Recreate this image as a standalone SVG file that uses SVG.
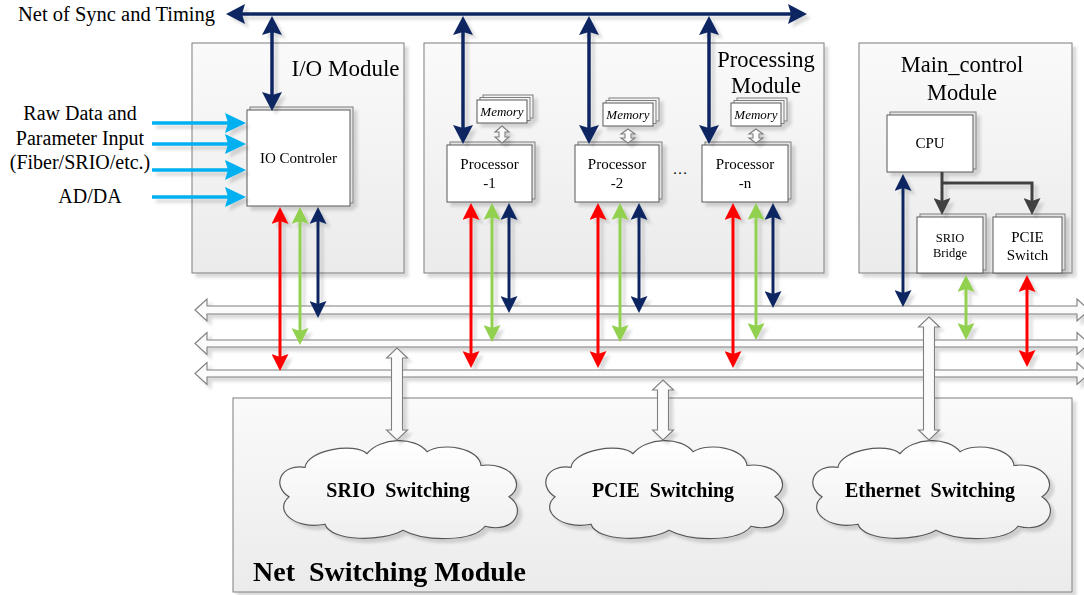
<svg xmlns="http://www.w3.org/2000/svg" width="1084" height="595" viewBox="0 0 1084 595">
  <style>
    .serif { font-family: "Liberation Serif", "Times New Roman", serif; fill: #000; }
    .title { font-size: 22.5px; text-anchor: middle; }
    .lbl { font-size: 20px; text-anchor: middle; }
    .box-txt { font-size: 15px; text-anchor: middle; }
    .mem-txt { font-size: 13px; font-style: italic; text-anchor: middle; }
    .cloud-txt { font-size: 20px; font-weight: bold; text-anchor: middle; }
    .module { fill: url(#modFill); stroke: #7f7f7f; stroke-width: 1; }
    .box { fill: #fff; stroke: #595959; stroke-width: 1; }
    .box-depth { fill: #e4e4e4; stroke: #7f7f7f; stroke-width: 1; }
    .cloud { fill: url(#cloudFill); stroke: #595959; stroke-width: 1.2; }
    .hollow { fill: #fbfbfb; stroke: #7f7f7f; stroke-width: 1.1; }
    .navy { stroke: #0f2862; stroke-width: 3.5; fill: none; }
    .navy-s { stroke: #0f2862; stroke-width: 3; fill: none; }
    .red { stroke: #ff0000; stroke-width: 3; fill: none; }
    .green { stroke: #92d050; stroke-width: 3; fill: none; }
    .cyan { stroke: #00b0f0; stroke-width: 3.5; fill: none; }
    .gray { stroke: #404040; stroke-width: 3; fill: none; }
  </style>
  <defs>
    <linearGradient id="modFill" x1="0" y1="0" x2="0" y2="1">
      <stop offset="0" stop-color="#fafafa"/>
      <stop offset="1" stop-color="#ebebeb"/>
    </linearGradient>
    <linearGradient id="cloudFill" x1="0" y1="0" x2="0" y2="1">
      <stop offset="0" stop-color="#ffffff"/>
      <stop offset="1" stop-color="#efefef"/>
    </linearGradient>
    <filter id="shadow" filterUnits="userSpaceOnUse" x="0" y="0" width="1100" height="610">
      <feDropShadow dx="4" dy="4" stdDeviation="1.4" flood-color="#000" flood-opacity="0.14"/>
    </filter>
    <!-- large arrowheads (sync net, inputs) -->
    <marker id="hNavyL" viewBox="0 0 19 20" markerWidth="19" markerHeight="20" markerUnits="userSpaceOnUse" refX="5" refY="10" orient="auto-start-reverse">
      <path d="M0,0 L19,10 L0,20 L3,10 z" fill="#0f2862"/>
    </marker>
    <marker id="hCyan" viewBox="0 0 21 20" markerWidth="21" markerHeight="20" markerUnits="userSpaceOnUse" refX="5" refY="10" orient="auto-start-reverse">
      <path d="M0,0 L21,10 L0,20 L3,10 z" fill="#00b0f0"/>
    </marker>
    <!-- small arrowheads (data links) -->
    <marker id="hNavy" viewBox="0 0 17 17" markerWidth="17" markerHeight="17" markerUnits="userSpaceOnUse" refX="5" refY="8.5" orient="auto-start-reverse">
      <path d="M0,0 L17,8.5 L0,17 L3,8.5 z" fill="#0f2862"/>
    </marker>
    <marker id="hRed" viewBox="0 0 17 17" markerWidth="17" markerHeight="17" markerUnits="userSpaceOnUse" refX="5" refY="8.5" orient="auto-start-reverse">
      <path d="M0,0 L17,8.5 L0,17 L3,8.5 z" fill="#ff0000"/>
    </marker>
    <marker id="hGreen" viewBox="0 0 17 17" markerWidth="17" markerHeight="17" markerUnits="userSpaceOnUse" refX="5" refY="8.5" orient="auto-start-reverse">
      <path d="M0,0 L17,8.5 L0,17 L3,8.5 z" fill="#92d050"/>
    </marker>
    <marker id="hGray" viewBox="0 0 17 17" markerWidth="17" markerHeight="17" markerUnits="userSpaceOnUse" refX="5" refY="8.5" orient="auto-start-reverse">
      <path d="M0,0 L17,8.5 L0,17 L3,8.5 z" fill="#404040"/>
    </marker>
    <path id="cloudShape" d="M30,28 C32,10 80,2 92,14 C105,-3 140,-4 152,12 C168,2 204,8 206,26 C236,22 252,46 234,58 C252,70 240,96 210,88 C198,104 150,104 128,92 C108,104 56,104 50,86 C20,92 -2,72 14,58 C-4,46 6,24 30,28 Z"/>
  </defs>

  <rect width="1084" height="595" fill="#fff"/>

  <!-- module containers -->
  <g id="io-module" filter="url(#shadow)">
    <rect class="module" x="192" y="43" width="212" height="230"/>
    <text class="serif title" x="345.5" y="76" style="font-size:23px">I/O Module</text>
  </g>
  <g id="processing-module" filter="url(#shadow)">
    <rect class="module" x="424" y="43" width="400" height="230"/>
    <text class="serif title" x="766" y="67">Processing</text>
    <text class="serif title" x="766" y="93">Module</text>
  </g>
  <g id="main-control-module" filter="url(#shadow)">
    <rect class="module" x="859" y="43" width="213" height="230"/>
    <text class="serif title" x="962" y="72">Main_control</text>
    <text class="serif title" x="962" y="100">Module</text>
  </g>
  <g id="net-switching-module" filter="url(#shadow)">
    <rect class="module" x="233" y="398" width="839" height="194"/>
    <text class="serif" x="253" y="581" style="font-size:28px;font-weight:bold" xml:space="preserve">Net  Switching Module</text>
  </g>

  <!-- input labels -->
  <g id="sync-label">
    <text class="serif" x="18" y="21" style="font-size:20.5px">Net of Sync and Timing</text>
  </g>
  <g id="input-labels">
    <text class="serif lbl" x="80" y="120">Raw Data and</text>
    <text class="serif lbl" x="80" y="145">Parameter Input</text>
    <text class="serif lbl" x="80" y="169">(Fiber/SRIO/etc.)</text>
    <text class="serif lbl" x="90" y="203">AD/DA</text>
  </g>

  <!-- inner units -->
  <g id="io-controller" filter="url(#shadow)">
    <rect class="box-depth" x="250" y="107" width="103" height="96"/>
    <rect class="box" x="247" y="110" width="103" height="96"/>
    <text class="serif box-txt" x="298.5" y="163">IO Controler</text>
  </g>

  <g id="memory-1" filter="url(#shadow)">
    <rect class="box-depth" x="483" y="95" width="50" height="23" style="fill:#f4f4f4"/>
    <rect class="box-depth" x="480" y="97.5" width="50" height="23" style="fill:#f4f4f4"/>
    <rect class="box" x="477" y="100" width="50" height="23"/>
    <text class="serif mem-txt" x="502" y="116">Memory</text>
  </g>
  <g id="processor-1" filter="url(#shadow)">
    <rect class="box-depth" x="450" y="142" width="85" height="57"/>
    <rect class="box" x="447" y="145" width="85" height="57"/>
    <text class="serif box-txt" x="489.5" y="169">Processor</text>
    <text class="serif box-txt" x="489.5" y="188">-1</text>
  </g>

  <g id="memory-2" filter="url(#shadow)">
    <rect class="box-depth" x="609" y="98" width="50" height="23" style="fill:#f4f4f4"/>
    <rect class="box-depth" x="606" y="100.5" width="50" height="23" style="fill:#f4f4f4"/>
    <rect class="box" x="603" y="103" width="50" height="23"/>
    <text class="serif mem-txt" x="628" y="119">Memory</text>
  </g>
  <g id="processor-2" filter="url(#shadow)">
    <rect class="box-depth" x="578" y="142" width="84" height="57"/>
    <rect class="box" x="575" y="145" width="84" height="57"/>
    <text class="serif box-txt" x="617" y="169">Processor</text>
    <text class="serif box-txt" x="617" y="188">-2</text>
  </g>

  <g id="ellipsis">
    <text class="serif box-txt" x="680" y="174">…</text>
  </g>

  <g id="memory-n" filter="url(#shadow)">
    <rect class="box-depth" x="737" y="98" width="50" height="23" style="fill:#f4f4f4"/>
    <rect class="box-depth" x="734" y="100.5" width="50" height="23" style="fill:#f4f4f4"/>
    <rect class="box" x="731" y="103" width="50" height="23"/>
    <text class="serif mem-txt" x="756" y="119">Memory</text>
  </g>
  <g id="processor-n" filter="url(#shadow)">
    <rect class="box-depth" x="705" y="142" width="86" height="57"/>
    <rect class="box" x="702" y="145" width="86" height="57"/>
    <text class="serif box-txt" x="745" y="169">Processor</text>
    <text class="serif box-txt" x="745" y="188">-n</text>
  </g>

  <g id="cpu" filter="url(#shadow)">
    <rect class="box-depth" x="890" y="112" width="86" height="57"/>
    <rect class="box" x="887" y="115" width="86" height="57"/>
    <text class="serif box-txt" x="930" y="148">CPU</text>
  </g>
  <g id="srio-bridge" filter="url(#shadow)">
    <rect class="box-depth" x="920" y="214" width="66" height="56"/>
    <rect class="box" x="917" y="217" width="66" height="56"/>
    <text class="serif box-txt" x="950" y="242" style="font-size:12.5px">SRIO</text>
    <text class="serif box-txt" x="950" y="257" style="font-size:12.5px">Bridge</text>
  </g>
  <g id="pcie-switch" filter="url(#shadow)">
    <rect class="box-depth" x="996" y="214" width="69" height="56"/>
    <rect class="box" x="993" y="217" width="69" height="56"/>
    <text class="serif box-txt" x="1027.5" y="242">PCIE</text>
    <text class="serif box-txt" x="1027.5" y="260">Switch</text>
  </g>

  <!-- switching fabrics -->
  <g id="srio-switching" filter="url(#shadow)">
    <use href="#cloudShape" class="cloud" transform="translate(275,440) scale(1,0.98)"/>
    <text class="serif cloud-txt" x="398" y="497" xml:space="preserve">SRIO  Switching</text>
  </g>
  <g id="pcie-switching" filter="url(#shadow)">
    <use href="#cloudShape" class="cloud" transform="translate(541,440) scale(1,0.98)"/>
    <text class="serif cloud-txt" x="663" y="497" xml:space="preserve">PCIE  Switching</text>
  </g>
  <g id="ethernet-switching" filter="url(#shadow)">
    <use href="#cloudShape" class="cloud" transform="translate(808,440) scale(1,0.98)"/>
    <text class="serif cloud-txt" x="930" y="497" xml:space="preserve">Ethernet  Switching</text>
  </g>

  <!-- connectors -->
  <g id="connectors" filter="url(#shadow)">
    <!-- backplane buses -->
    <polygon class="hollow" points="195,310 207,299 207,306 1077,306 1077,299 1089,310 1077,321 1077,314 207,314 207,321"/>
    <polygon class="hollow" points="195,343.5 207,332.5 207,340 1077,340 1077,332.5 1089,343.5 1077,354.5 1077,347 207,347 207,354.5"/>
    <polygon class="hollow" points="195,373.5 207,362.5 207,370 1077,370 1077,362.5 1089,373.5 1077,384.5 1077,377 207,377 207,384.5"/>

    <!-- bus to switching fabrics -->
    <polygon class="hollow" points="397,348 407.5,358 402.5,358 402.5,430 407.5,430 397,440 386.5,430 391.5,430 391.5,358 386.5,358"/>
    <polygon class="hollow" points="663,380 673.5,390 668.5,390 668.5,430 673.5,430 663,440 652.5,430 657.5,430 657.5,390 652.5,390"/>
    <polygon class="hollow" points="929,317 939.5,327 934.5,327 934.5,430 939.5,430 929,440 918.5,430 923.5,430 923.5,327 918.5,327"/>

    <!-- memory links -->
    <polygon class="hollow" points="502,126 509,132 505,132 505,137 509,137 502,143 495,137 499,137 499,132 495,132"/>
    <polygon class="hollow" points="628,129 635,134 631,134 631,138 635,138 628,143 621,138 625,138 625,134 621,134"/>
    <polygon class="hollow" points="756,129 763,134 759,134 759,138 763,138 756,143 749,138 753,138 753,134 749,134"/>

    <!-- sync and timing net -->
    <line class="navy" x1="240" y1="14" x2="793" y2="14" marker-start="url(#hNavyL)" marker-end="url(#hNavyL)"/>
    <line class="navy" x1="272" y1="30" x2="272" y2="97" marker-start="url(#hNavyL)" marker-end="url(#hNavyL)"/>
    <line class="navy" x1="463" y1="30" x2="463" y2="130" marker-start="url(#hNavyL)" marker-end="url(#hNavyL)"/>
    <line class="navy" x1="589" y1="30" x2="589" y2="130" marker-start="url(#hNavyL)" marker-end="url(#hNavyL)"/>
    <line class="navy" x1="709" y1="30" x2="709" y2="130" marker-start="url(#hNavyL)" marker-end="url(#hNavyL)"/>

    <!-- raw data inputs -->
    <line class="cyan" x1="152" y1="123" x2="230" y2="123" marker-end="url(#hCyan)"/>
    <line class="cyan" x1="152" y1="144" x2="230" y2="144" marker-end="url(#hCyan)"/>
    <line class="cyan" x1="152" y1="170" x2="230" y2="170" marker-end="url(#hCyan)"/>
    <line class="cyan" x1="152" y1="197" x2="230" y2="197" marker-end="url(#hCyan)"/>

    <!-- IO controller links -->
    <line class="red" x1="280" y1="219" x2="280" y2="359" marker-start="url(#hRed)" marker-end="url(#hRed)"/>
    <line class="green" x1="300" y1="219" x2="300" y2="333" marker-start="url(#hGreen)" marker-end="url(#hGreen)"/>
    <line class="navy-s" x1="318" y1="219" x2="318" y2="306" marker-start="url(#hNavy)" marker-end="url(#hNavy)"/>

    <!-- processor-1 links -->
    <line class="red" x1="471" y1="215" x2="471" y2="356" marker-start="url(#hRed)" marker-end="url(#hRed)"/>
    <line class="green" x1="492" y1="215" x2="492" y2="330" marker-start="url(#hGreen)" marker-end="url(#hGreen)"/>
    <line class="navy-s" x1="509" y1="215" x2="509" y2="301" marker-start="url(#hNavy)" marker-end="url(#hNavy)"/>

    <!-- processor-2 links -->
    <line class="red" x1="598" y1="215" x2="598" y2="356" marker-start="url(#hRed)" marker-end="url(#hRed)"/>
    <line class="green" x1="620" y1="215" x2="620" y2="330" marker-start="url(#hGreen)" marker-end="url(#hGreen)"/>
    <line class="navy-s" x1="639" y1="215" x2="639" y2="301" marker-start="url(#hNavy)" marker-end="url(#hNavy)"/>

    <!-- processor-n links -->
    <line class="red" x1="733" y1="215" x2="733" y2="356" marker-start="url(#hRed)" marker-end="url(#hRed)"/>
    <line class="green" x1="756" y1="215" x2="756" y2="328" marker-start="url(#hGreen)" marker-end="url(#hGreen)"/>
    <line class="navy-s" x1="773" y1="215" x2="773" y2="296" marker-start="url(#hNavy)" marker-end="url(#hNavy)"/>

    <!-- main control links -->
    <line class="navy-s" x1="903" y1="186" x2="903" y2="295" marker-start="url(#hNavy)" marker-end="url(#hNavy)"/>
    <line class="green" x1="966" y1="287" x2="966" y2="328" marker-start="url(#hGreen)" marker-end="url(#hGreen)"/>
    <line class="red" x1="1027" y1="287" x2="1027" y2="355" marker-start="url(#hRed)" marker-end="url(#hRed)"/>
    <path class="gray" d="M942,172 V203" marker-end="url(#hGray)"/>
    <path class="gray" d="M942,183 H1032 V203" marker-end="url(#hGray)"/>
  </g>
</svg>
